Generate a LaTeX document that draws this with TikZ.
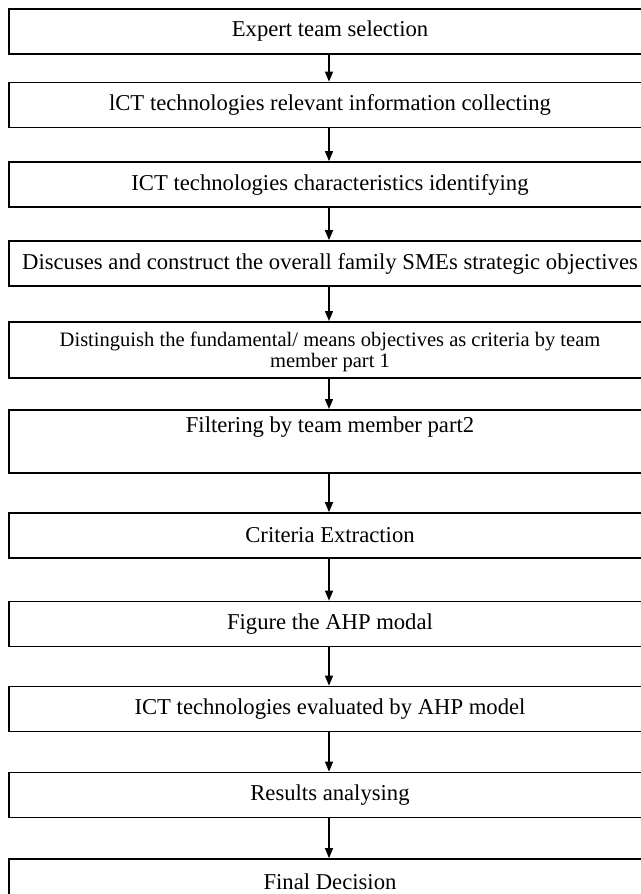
\documentclass[tikz,border=0pt]{standalone}
\usepackage{fontspec}
\setmainfont{Liberation Serif}
\usetikzlibrary{arrows.meta}

\tikzset{
	stepbox/.style={draw, line width=1.3pt, minimum width=481.5pt, minimum height=33.75pt, inner sep=0pt, font=\fontsize{17}{19}\selectfont},
	flowarrow/.style={-{Triangle[width=6pt,length=7.5pt]}, line width=1pt},
}

\begin{document}
\begin{tikzpicture}[x=0.75pt,y=-0.75pt]
	%\draw[help lines, gray!30] (0,0) grid[step=50] (641,894);
	\useasboundingbox (0,0) rectangle (641,894);
	\clip (0,0) rectangle (641,894);
	
	\node[stepbox] (expert) at (330,31.5) {Expert team selection};
	\node[stepbox] (collect) at (330,105) {lCT technologies relevant information collecting};
	\node[stepbox] (identify) at (330,184.5) {ICT technologies characteristics identifying};
	\node[stepbox] (discuss) at (330,263.5) {Discuses and construct the overall family SMEs strategic objectives};
	\node[stepbox, anchor=north, minimum height=0pt, text height=34.5pt, text depth=7.5pt, align=center, font=\fontsize{15.4}{15.75}\selectfont] (distinguish) at (330,321) {Distinguish the fundamental/ means objectives as criteria by team\\member part 1};
	\node[stepbox, anchor=north, minimum height=0pt, text height=17pt, text depth=30.25pt] (filter) at (330,409) {Filtering by team member part2};
	\node[stepbox] (extract) at (330,535.5) {Criteria Extraction};
	\node[stepbox] (figure) at (330,624) {Figure the AHP modal};
	\node[stepbox] (evaluate) at (330,709) {ICT technologies evaluated by AHP model};
	\node[stepbox] (results) at (330,795) {Results analysing};
	\node[stepbox] (decision) at (330,881.5) {Final Decision};
	
	\foreach \a/\b in {expert/collect, collect/identify, identify/discuss, discuss/distinguish, distinguish/filter, filter/extract, extract/figure, figure/evaluate, evaluate/results, results/decision}
	\draw[flowarrow] ([xshift=-0.75pt]\a.south) -- ([xshift=-0.75pt]\b.north);
	
\end{tikzpicture}
\end{document}
